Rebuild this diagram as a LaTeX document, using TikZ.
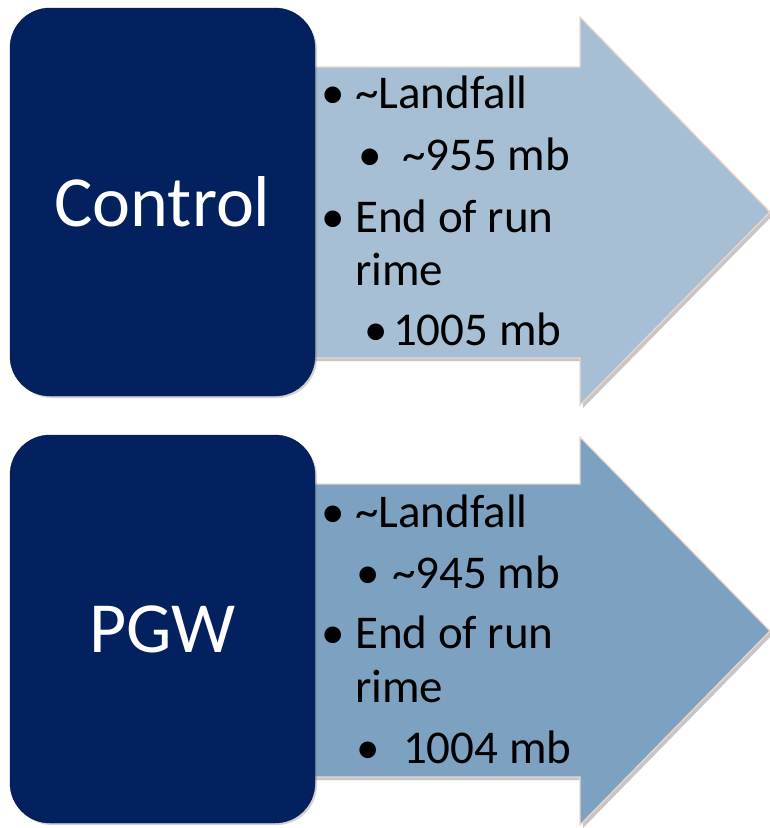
\documentclass[tikz,border=0pt]{standalone}
\usepackage{fontspec}
\setmainfont{Carlito}
\usetikzlibrary{shadows}
\definecolor{mynavy}{HTML}{03215F}
\definecolor{mylight}{HTML}{A7BFD4}
\definecolor{mymid}{HTML}{7DA2C1}
\definecolor{myedge}{HTML}{EFD6CA}
\tikzset{
  box/.style={fill=mynavy, draw=mynavy!80!black, rounded corners=40pt, minimum width=305pt, minimum height=388pt,
    text=white, font={\fontsize{72}{80}\selectfont}, drop shadow={shadow xshift=2pt, shadow yshift=-2pt, opacity=.35}},
  arr/.style={draw=myedge, line width=1.2pt, drop shadow={shadow xshift=3pt, shadow yshift=-3pt, opacity=.45}},
  item/.style={anchor=base west, inner sep=0pt, font={\fontsize{47}{52}\selectfont}}
}
\newcommand{\itembul}[1]{\makebox[#1pt][l]{\textbullet}}

\begin{document}
\begin{tikzpicture}[x=1pt, y=-1pt]
  \useasboundingbox (0,0) rectangle (770,828);
  % top row
  \draw[arr, fill=mylight] (300,67) -- (580,67) -- (580,17) -- (770,212) -- (580,405) -- (580,358) -- (300,358) -- cycle;
  \node[box] (ctl) at (162.5,202) {Control};
  \node[item] (ctl-a) at (321,108) {\itembul{34}\textasciitilde Landfall};
  \node[item] (ctl-b) at (358,170) {\itembul{44}\textasciitilde 955 mb};
  \node[item] (ctl-c) at (321,232) {\itembul{34}End of run};
  \node[item] (ctl-d) at (355,285) {rime};
  \node[item] (ctl-e) at (364,345) {\itembul{29}1005 mb};
  % bottom row
  \draw[arr, fill=mymid] (300,484) -- (580,484) -- (580,437) -- (770,631) -- (580,825) -- (580,777) -- (300,777) -- cycle;
  \node[box] (pgw) at (162.5,629) {PGW};
  \node[item] (pgw-a) at (321,527) {\itembul{34}\textasciitilde Landfall};
  \node[item] (pgw-b) at (356,588) {\itembul{36}\textasciitilde 945 mb};
  \node[item] (pgw-c) at (321,648) {\itembul{34}End of run};
  \node[item] (pgw-d) at (355,702) {rime};
  \node[item] (pgw-e) at (356,763) {\itembul{47}1004 mb};
\end{tikzpicture}
\end{document}
